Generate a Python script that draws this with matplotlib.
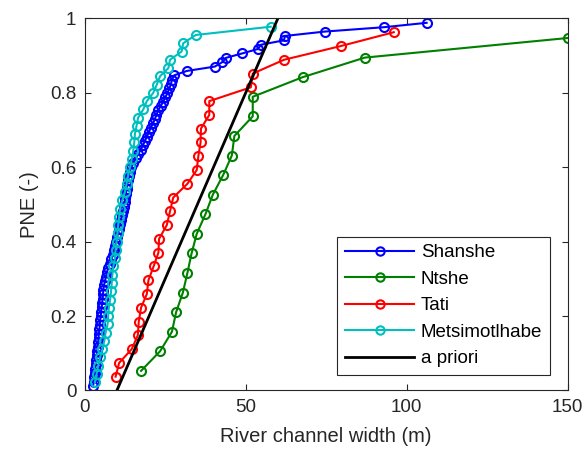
import matplotlib
matplotlib.use("Agg")
from matplotlib import pyplot as plt

# river channel widths (m), sorted
shanshe = [2.6, 2.8, 3.0, 3.1, 3.3, 3.4, 3.6, 3.7, 3.9, 4.0,
           4.2, 4.3, 4.4, 4.6, 4.7, 4.8, 5.0, 5.1, 5.3, 5.4,
           5.6, 5.7, 5.8, 6.0, 6.3, 6.6, 6.9, 7.3, 7.8, 8.3,
           8.7, 9.1, 9.5, 9.8, 10.1, 10.4, 10.7, 11.0, 11.3, 11.6,
           11.9, 12.2, 12.4, 12.6, 12.8, 13.0, 13.2, 13.5, 13.8, 14.0,
           14.5, 15.1, 15.8, 16.6, 17.4, 18.1, 18.7, 19.3, 19.9, 20.5,
           21.2, 21.8, 22.3, 22.8, 23.6, 24.4, 25.1, 25.7, 26.3, 26.8,
           27.1, 27.8, 31.7, 40.4, 42.7, 43.9, 48.9, 53.7, 54.8, 61.9,
           62.2, 74.6, 93.0, 106.2]
ntshe = [17.5, 23.4, 27.1, 28.4, 30.5, 31.9, 33.2, 34.8, 37.5, 39.8,
         43.0, 45.7, 46.5, 52.2, 52.2, 67.7, 87.0, 150.0]
tati = [9.6, 10.7, 14.6, 16.5, 16.8, 17.5, 19.3, 19.8, 21.4, 22.9,
        23.1, 25.5, 26.5, 27.5, 31.9, 34.8, 35.3, 36.0, 36.1, 38.7,
        38.7, 51.6, 52.2, 61.9, 79.6, 96.0]
metsi = [3.2, 3.7, 4.2, 4.8, 5.5, 6.1, 6.5, 7.1, 7.3, 7.5,
         7.9, 8.2, 8.4, 8.6, 8.9, 9.4, 9.6, 9.9, 10.2, 10.4,
         10.7, 11.0, 11.7, 12.5, 13.0, 13.5, 14.1, 14.6, 15.1, 15.4,
         15.6, 16.1, 16.6, 18.2, 19.3, 21.3, 22.4, 23.4, 26.0, 26.5,
         30.1, 30.6, 34.5, 57.8]
prior_x = [10, 60]
prior_y = [0, 1]

def pne(widths):
    n = len(widths)
    return [(i + 1) / (n + 1) for i in range(n)]

plt.rcParams["font.family"] = ["Liberation Sans", "DejaVu Sans"]
fig = plt.figure(figsize=(5.84, 4.61), dpi=100)
ax = fig.add_axes([0.145, 0.153, 0.827, 0.807])

style = dict(marker="o", markerfacecolor="none", markersize=6.5, markeredgewidth=1.5, linewidth=1.5)
ax.plot(shanshe, pne(shanshe), color="#0000ff", label="Shanshe", **style)
ax.plot(ntshe, pne(ntshe), color="#008000", label="Ntshe", **style)
ax.plot(tati, pne(tati), color="#ff0000", label="Tati", **style)
ax.plot(metsi, pne(metsi), color="#00bfbf", label="Metsimotlhabe", **style)
ax.plot(prior_x, prior_y, color="black", linewidth=2, label="a priori")

ax.set_xlim(0, 150)
ax.set_ylim(0, 1)
ax.set_xticks([0, 50, 100, 150])
ax.set_yticks([0, 0.2, 0.4, 0.6, 0.8, 1])
ax.set_yticklabels(["0", "0.2", "0.4", "0.6", "0.8", "1"])
ax.set_xlabel("River channel width (m)", fontsize=14.5, color="#262626", labelpad=8)
ax.set_ylabel("PNE (-)", fontsize=14.5, color="#262626", labelpad=8)
ax.tick_params(direction="in", top=True, right=True, labelsize=13.5, colors="#262626",
               length=4, pad=6)
for s in ax.spines.values():
    s.set_color("#262626")
    s.set_linewidth(0.8)

leg = ax.legend(loc="lower right", bbox_to_anchor=(0.963, 0.042), borderaxespad=0,
                fontsize=13.5, numpoints=1, handlelength=3.7, handletextpad=0.35,
                labelspacing=0.5, fancybox=False, framealpha=1, edgecolor="#262626")
leg.get_frame().set_linewidth(0.8)
for h in leg.legend_handles:
    h.set_markersize(6)

fig.savefig("out.png", dpi=100)
